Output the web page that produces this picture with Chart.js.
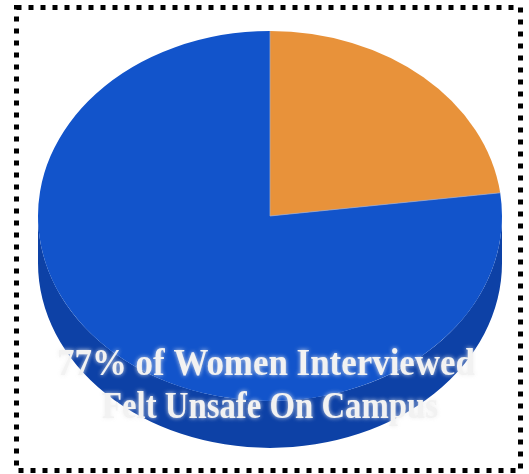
<!DOCTYPE html>
<html>
<head>
<meta charset="utf-8">
<script src="https://cdn.jsdelivr.net/npm/chart.js@4/dist/chart.umd.min.js"></script>
<style>
  html, body { margin: 0; padding: 0; background: #ffffff; }
  #wrap { position: relative; width: 529px; height: 474px; }
</style>
</head>
<body>
<div id="wrap"><canvas id="pie"></canvas></div>
<script>
// Survey answers
const categories = ['Did not feel unsafe', 'Felt unsafe on campus'];
const shares = [23, 77];
const topColors = ['#e8923a', '#1254cb'];
const sideColors = ['#b96c22', '#0d41a6'];
const captionLines = ['77% of Women Interviewed', 'Felt Unsafe On Campus'];

// Tilt and thickness of the disc
const tilt = 0.797;      // vertical squash of the top face
const thickness = 47;    // wall height in screen pixels

const tiltPlugin = {
  id: 'tilt3d',
  beforeDatasetsDraw(chart) {
    const ctx = chart.ctx;
    const arcs = chart.getDatasetMeta(0).data;
    if (!arcs.length) return;
    const cy = arcs[0].y;
    ctx.save();
    ctx.translate(0, cy);
    ctx.scale(1, tilt);
    ctx.translate(0, -cy);
    const D = thickness / tilt;
    // front wall of every slice (the part facing the viewer)
    arcs.forEach((arc, i) => {
      const { x, y, outerRadius, startAngle, endAngle } = arc.getProps(['x', 'y', 'outerRadius', 'startAngle', 'endAngle']);
      const segs = [];
      for (let k = -1; k <= 1; k++) {
        const lo = Math.max(startAngle, k * 2 * Math.PI);
        const hi = Math.min(endAngle, k * 2 * Math.PI + Math.PI);
        if (hi > lo) segs.push([lo, hi]);
      }
      segs.forEach(([a0, a1]) => {
        ctx.beginPath();
        ctx.arc(x, y, outerRadius, a0, a1);
        ctx.lineTo(x + Math.cos(a1) * outerRadius, y + D + Math.sin(a1) * outerRadius);
        ctx.arc(x, y + D, outerRadius, a1, a0, true);
        ctx.closePath();
        ctx.fillStyle = sideColors[i];
        ctx.fill();
      });
    });
  },
  afterDatasetsDraw(chart) {
    const ctx = chart.ctx;
    const arcs = chart.getDatasetMeta(0).data;
    // faint seam along each slice edge
    arcs.forEach((arc) => {
      const { x, y, outerRadius, startAngle } = arc.getProps(['x', 'y', 'outerRadius', 'startAngle']);
      ctx.beginPath();
      ctx.moveTo(x, y);
      ctx.lineTo(x + Math.cos(startAngle) * outerRadius, y + Math.sin(startAngle) * outerRadius);
      ctx.strokeStyle = 'rgba(170,170,190,0.8)';
      ctx.lineWidth = 1;
      ctx.stroke();
    });
    ctx.restore();
  },
  afterDraw(chart) {
    const ctx = chart.ctx;
    const arcs = chart.getDatasetMeta(0).data;
    const cx = arcs.length ? arcs[0].x : chart.width / 2;
    // caption over the front of the disc
    ctx.save();
    ctx.font = 'bold 37px "Liberation Serif", serif';
    ctx.textAlign = 'center';
    ctx.textBaseline = 'alphabetic';
    ctx.shadowColor = 'rgba(235,235,235,0.9)';
    ctx.shadowBlur = 4;
    ctx.fillStyle = '#f2f2f2';
    ctx.fillText(captionLines[0], cx - 4, 375, 418);
    ctx.fillText(captionLines[1], cx, 418, 336);
    ctx.restore();
    // dotted frame
    ctx.save();
    ctx.strokeStyle = '#000000';
    ctx.lineWidth = 5;
    ctx.setLineDash([5, 7]);
    ctx.strokeRect(16.5, 7.5, 504, 463);
    ctx.restore();
  }
};

new Chart(document.getElementById('pie'), {
  type: 'pie',
  data: {
    labels: categories,
    datasets: [{
      data: shares,
      backgroundColor: topColors,
      borderWidth: 0
    }]
  },
  options: {
    responsive: true,
    maintainAspectRatio: false,
    animation: false,
    events: [],
    radius: 232,
    layout: { padding: { left: 11, right: 0, top: 0, bottom: 42 } },
    plugins: {
      legend: { display: false },
      tooltip: { enabled: false },
      title: { display: false }
    }
  },
  plugins: [tiltPlugin]
});
</script>
</body>
</html>
